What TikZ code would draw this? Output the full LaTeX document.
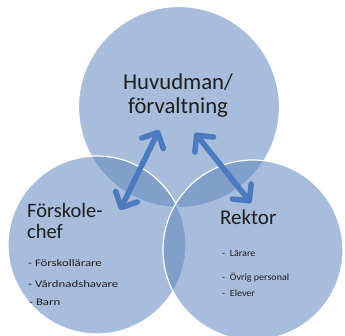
\documentclass[tikz,border=0pt]{standalone}
\usepackage{fontspec}
\setmainfont{Carlito}
\newfontfamily\leftitemfont[FakeStretch=1.28]{Carlito}
\newfontfamily\rightitemfont[FakeStretch=1.06]{Carlito}
\usetikzlibrary{positioning,arrows.meta}
\definecolor{circfill}{RGB}{95,135,190}
\definecolor{arrowblue}{RGB}{76,122,190}
\definecolor{txt}{RGB}{30,30,30}

\begin{document}
\begin{tikzpicture}[x=1pt, y=1pt, every node/.style={text=txt},
  ring/.style={circle, inner sep=0pt, fill=circfill, fill opacity=0.55, draw=white, line width=1.2pt},
  link/.style={arrowblue, line width=5.5pt, line cap=round, {Straight Barb[length=12pt,width=24pt,round]}-{Straight Barb[length=12pt,width=24pt,round]}},
  head/.style={inner sep=0pt, anchor=base west},
  item/.style={inner sep=0pt, anchor=base west}]
\useasboundingbox (0,0) rectangle (345,-335);

% Draw the three circles
\node[ring, minimum size=201pt] (huvud) at (179,-107) {};
\node[ring, minimum size=178pt] (forsk) at (97,-245) {};
\node[ring, minimum size=180pt] (rekt) at (253,-250) {};

% Double arrows between the circles
\coordinate (a1) at (159,-130);
\coordinate (a2) at (120,-210);
\coordinate (b1) at (195,-133);
\coordinate (b2) at (251,-203);
\draw[link] (a1) -- (a2);
\draw[link] (b1) -- (b2);

% Headings
\node[head, anchor=base, font=\fontsize{22.7}{24}\selectfont] (huvudtxt1) at (178,-89) {Huvudman/};
\node[head, anchor=base, font=\fontsize{22.7}{24}\selectfont] (huvudtxt2) at (178,-113) {förvaltning};
\node[head, font=\fontsize{20.5}{21}\selectfont] (forsktxt1) at (27,-217) {Förskole-};
\node[head, font=\fontsize{20.5}{21}\selectfont] (forsktxt2) at (27,-238) {chef};
\node[head, font=\fontsize{21}{21}\selectfont] (rekttxt) at (220,-224) {Rektor};

% Members
\begin{scope}[every node/.append style={font=\leftitemfont\fontsize{10}{11}\selectfont}]
\node[item] (f1) at (28,-266) {- Förskollärare};
\node[item] (f2) at (28,-287) {- Vårdnadshavare};
\node[item] (f3) at (29,-305) {- Barn};
\end{scope}
\begin{scope}[every node/.append style={font=\rightitemfont\fontsize{9.5}{11}\selectfont}]
\node[item] (r1) at (222,-256) {-\ \ Lärare};
\node[item] (r2) at (222,-280) {-\ \ Övrig personal};
\node[item] (r3) at (222,-296) {-\ \ Elever};
\end{scope}
\end{tikzpicture}
\end{document}
